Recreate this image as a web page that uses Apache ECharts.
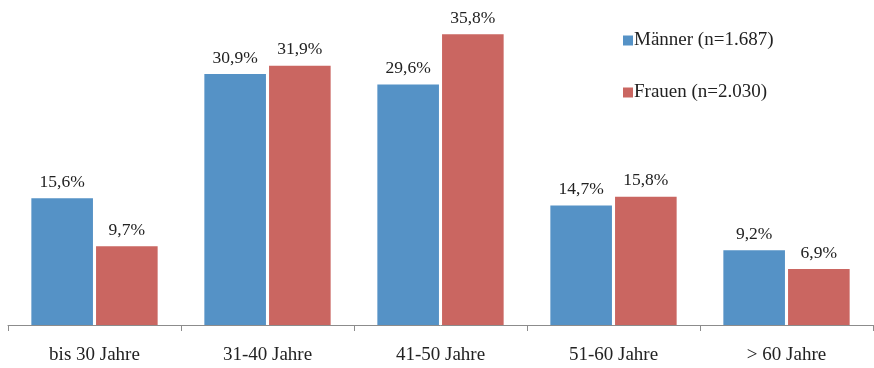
<!DOCTYPE html>
<html>
<head>
<meta charset="utf-8">
<script src="https://cdn.jsdelivr.net/npm/echarts@6/dist/echarts.min.js"></script>
<style>
  html, body { margin: 0; padding: 0; background: #fff; }
  #chart { width: 874px; height: 368px; }
</style>
</head>
<body>
<div id="chart"></div>
<script>
// Altersgruppen und Anteile je Geschlecht (in %)
const categories = ['bis 30 Jahre', '31-40 Jahre', '41-50 Jahre', '51-60 Jahre', '> 60 Jahre'];
const maenner = [15.6, 30.9, 29.6, 14.7, 9.2];
const frauen = [9.7, 31.9, 35.8, 15.8, 6.9];
const seriesNames = ['Männer (n=1.687)', 'Frauen (n=2.030)'];

const fontFamily = '"Liberation Serif", "DejaVu Serif", serif';
const fmt = p => p.value.toFixed(1).replace('.', ',') + '%';
const valueLabel = { show: true, position: 'top', distance: 7, formatter: fmt, fontFamily, fontSize: 17.5, color: '#222' };

const chart = echarts.init(document.getElementById('chart'), null, { renderer: 'canvas' });
chart.setOption({
  animation: false,
  textStyle: { fontFamily },
  grid: { left: 8, right: 1, top: 0, bottom: 43, containLabel: false },
  legend: {
    orient: 'vertical',
    left: 618,
    top: 26,
    itemGap: 33,
    itemWidth: 10,
    itemHeight: 10,
    icon: 'rect',
    textStyle: { fontFamily, fontSize: 19, color: '#222', padding: [2, 0, 0, -4] },
    data: seriesNames
  },
  xAxis: {
    type: 'category',
    data: categories,
    axisLine: { lineStyle: { color: '#8c8c8c', width: 1 } },
    axisTick: { show: true, length: 6, lineStyle: { color: '#8c8c8c' } },
    axisLabel: { fontFamily, fontSize: 19, color: '#222', margin: 21 }
  },
  yAxis: {
    type: 'value',
    min: 0,
    max: 40,
    show: false,
    splitLine: { show: false }
  },
  series: [
    {
      name: seriesNames[0],
      type: 'bar',
      data: maenner,
      barGap: '5%',
      barCategoryGap: '27%',
      itemStyle: { color: '#5592c6' },
      label: valueLabel
    },
    {
      name: seriesNames[1],
      type: 'bar',
      data: frauen,
      itemStyle: { color: '#ca6661' },
      label: valueLabel
    }
  ]
});
</script>
</body>
</html>
